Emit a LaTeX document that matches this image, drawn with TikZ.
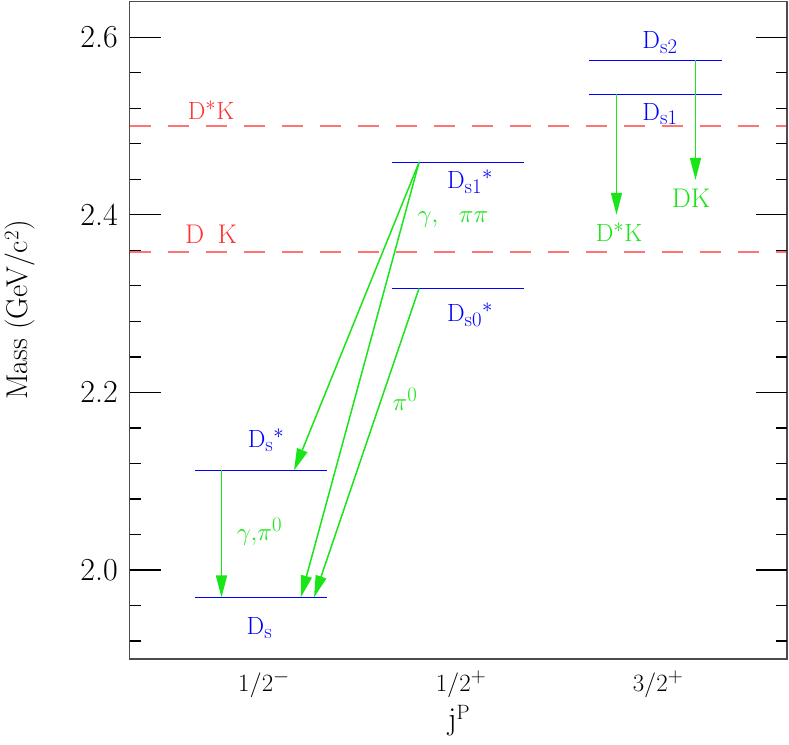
\documentclass[tikz,border=0pt]{standalone}
\usepackage{amsmath}
\usepackage{tikz}
\usetikzlibrary{arrows.meta}
\definecolor{mblue}{rgb}{0, 0, 1}
\definecolor{mgreen}{rgb}{0.1, 0.9, 0.1}
\definecolor{mred}{rgb}{1, 0.2, 0.2}
\definecolor{mpink}{rgb}{1, 0.45, 0.45}
\definecolor{mgray}{rgb}{0.3, 0.3, 0.3}
\DeclareMathSizes{27}{27}{21}{16}
\tikzset{lvlline/.style = {draw=mblue, line width=1.7pt}}
\tikzset{decay/.style = {draw=mgreen, line width=1.5pt,
                         -{Triangle[length=22pt, width=11pt]}}}
\tikzset{threshold/.style = {draw=mpink, line width=2pt, dash pattern=on 21pt off 17pt}}
\tikzset{tickmark/.style = {draw=black, line width=1.3pt}}
\tikzset{lbl/.style = {inner sep=0, font=\fontsize{27}{32}\selectfont}}
\tikzset{axlbl/.style = {inner sep=0, font=\fontsize{32}{38}\selectfont}}

\begin{document}
\begin{tikzpicture}[x=1pt, y=888pt]
    \useasboundingbox (0, 1.80405) rectangle (789, 2.64189);

    % thresholds
    \draw [threshold] (129.5, 2.5) -- (787, 2.5);
    \draw [threshold] (129.5, 2.3585) -- (787, 2.3585);
    \node [lbl, text=mred] (thr-dstk) at (211, 2.518) {$\mathrm{D}^{*}\mathrm{K}$};
    \node [lbl, text=mred] (thr-dk) at (211, 2.3784) {D\enspace K};

    % frame and ticks
    \draw [mgray, line width=1.6pt] (129.5, 1.90) rectangle (787, 2.64);
    \foreach \m/\n in {2.0/20, 2.2/22, 2.4/24, 2.6/26} {
      \draw [tickmark] (129.5, \m) -- +(31, 0);
      \draw [tickmark] (787, \m) -- +(-31, 0);
      \node [axlbl, anchor=east] (y\n) at (118, \m) {\m};
    }
    \foreach \m in {1.92, 1.96, 2.04, 2.08, 2.12, 2.16, 2.24, 2.28,
                    2.32, 2.36, 2.44, 2.48, 2.52, 2.56} {
      \draw [tickmark] (129.5, \m) -- +(11, 0);
      \draw [tickmark] (787, \m) -- +(-11, 0);
    }

    % axis labels
    \node [axlbl, anchor=base] (jm) at (264, 1.8626) {$1/2^{-}$};
    \node [axlbl, anchor=base] (jp) at (461, 1.8626) {$1/2^{+}$};
    \node [axlbl, anchor=base] (jpp) at (658, 1.8626) {$3/2^{+}$};
    \node [axlbl, anchor=base] (xtitle) at (459, 1.8209) {j$^{\mathrm{P}}$};
    \node [inner sep=0, font=\fontsize{30}{36}\selectfont, rotate=90] (ytitle)
      at (20, 2.2928) {Mass (GeV/c$^{2}$)};

    % levels
    \draw [lvlline] (195, 1.96903) -- (327, 1.96903);
    \draw [lvlline] (195, 2.11205) -- (327, 2.11205);
    \draw [lvlline] (392, 2.31700) -- (524, 2.31700);
    \draw [lvlline] (392, 2.45889) -- (524, 2.45889);
    \draw [lvlline] (589, 2.53547) -- (722, 2.53547);
    \draw [lvlline] (589, 2.57376) -- (722, 2.57376);

    \node [lbl, text=mblue] (ds) at (259.5, 1.9347) {$\mathrm{D}_{\mathrm{s}}$};
    \node [lbl, text=mblue] (dsst) at (266, 2.1464) {$\mathrm{D}_{\mathrm{s}}{}^{*}$};
    \node [lbl, text=mblue] (ds0st) at (470, 2.2872) {$\mathrm{D}_{\mathrm{s0}}{}^{*}$};
    \node [lbl, text=mblue] (ds1st) at (470, 2.4369) {$\mathrm{D}_{\mathrm{s1}}{}^{*}$};
    \node [lbl, text=mblue] (ds1) at (660, 2.5135) {$\mathrm{D}_{\mathrm{s1}}$};
    \node [lbl, text=mblue] (ds2) at (660, 2.594) {$\mathrm{D}_{\mathrm{s2}}$};

    % decay points
    \coordinate (ds-a) at (221.5, 1.96903);
    \coordinate (ds-b) at (300.7, 1.96903);
    \coordinate (ds-c) at (314, 1.96903);
    \coordinate (dsst-a) at (221.5, 2.11205);
    \coordinate (dsst-b) at (294, 2.11205);
    \coordinate (ds0st-a) at (419, 2.31700);
    \coordinate (ds1st-a) at (419, 2.45889);
    \coordinate (ds1-a) at (616.5, 2.53547);
    \coordinate (ds1-end) at (616.5, 2.400);
    \coordinate (ds2-a) at (695.5, 2.57376);
    \coordinate (ds2-end) at (695.5, 2.4393);

    \draw [decay] (dsst-a) -- (ds-a);
    \draw [decay] (ds1st-a) -- (dsst-b);
    \draw [decay] (ds1st-a) -- (ds-b);
    \draw [decay] (ds0st-a) -- (ds-c);
    \draw [decay] (ds1-a) -- (ds1-end);
    \draw [decay] (ds2-a) -- (ds2-end);

    \node [lbl, text=mgreen] (gpi0) at (259.5, 2.0428) {$\gamma{,}\pi^{0}$};
    \node [lbl, text=mgreen] (gpipi) at (453, 2.3941) {$\gamma,\ \ \pi\pi$};
    \node [lbl, text=mgreen] (pi0) at (405, 2.1926) {$\pi^{0}$};
    \node [lbl, text=mgreen] (dstk) at (619, 2.3806) {$\mathrm{D}^{*}\mathrm{K}$};
    \node [lbl, text=mgreen] (dk) at (691, 2.4189) {DK};
  \end{tikzpicture}
\end{document}
